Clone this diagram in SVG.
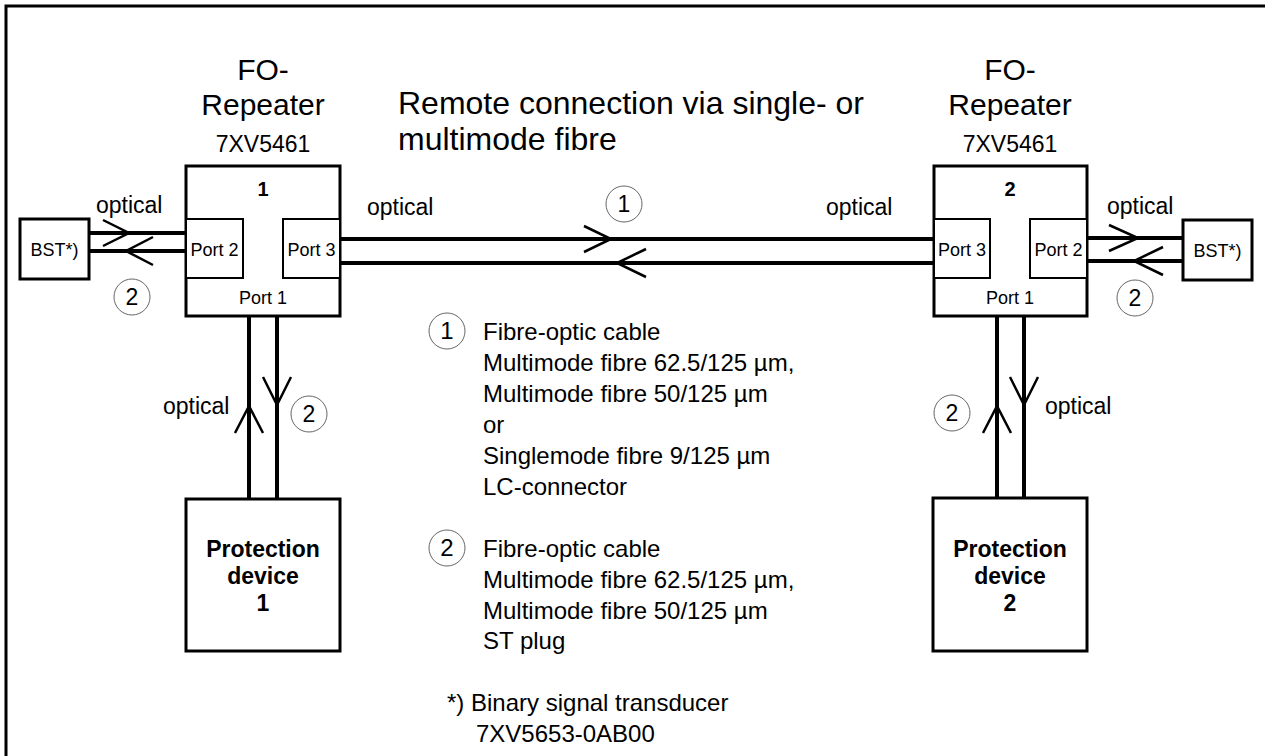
<svg xmlns="http://www.w3.org/2000/svg" width="1265" height="756" viewBox="0 0 1265 756">
<style>
text{font-family:"Liberation Sans",Arial,sans-serif;fill:#000}
.big{font-size:30px}
.rem{font-size:32px}
.mid{font-size:23px}
.leg{font-size:24px}
.sm{font-size:18px}
.b{font-weight:bold}
.c{text-anchor:middle}
.box{fill:#fff;stroke:#000;stroke-width:3}
.port{fill:#fff;stroke:#000;stroke-width:2}
.ln{stroke:#000;stroke-width:4;fill:none}
.ah{stroke:#000;stroke-width:2.5;fill:none}
.cir{fill:none;stroke:#666;stroke-width:1}
</style>
<rect width="1265" height="756" fill="#fff"/>
<path d="M6,756V6H1265" fill="none" stroke="#000" stroke-width="3"/>

<g id="connectors">
<path class="ln" d="M89,233H186M89,251H186"/>
<path class="ah" d="M103,220L129,233L103,246M153,237L126,251L153,265"/>
<path class="ln" d="M340,239H934M340,263H934"/>
<path class="ah" d="M584,226L611,239L584,252M646,249L617,263L646,277"/>
<path class="ln" d="M1087,238H1183M1087,261H1183"/>
<path class="ah" d="M1109,225L1138,238L1109,251M1163,247L1134,261L1163,275"/>
<path class="ln" d="M249,316V499M277,316V499"/>
<path class="ah" d="M235,433L249,406L263,433M263,377L277,405L291,377"/>
<path class="ln" d="M997,316V498M1024,316V498"/>
<path class="ah" d="M983,433L997,406L1011,433M1010,377L1024,405L1038,377"/>
</g>

<g id="repeater1">
<text class="big c" x="263" y="80">FO-</text>
<text class="big c" x="263" y="115">Repeater</text>
<text class="mid c" x="263" y="152">7XV5461</text>
<rect class="box" x="186" y="166" width="154" height="150"/>
<text class="b c" style="font-size:20px" x="263" y="196">1</text>
<rect class="port" x="186" y="219" width="57" height="59"/>
<text class="sm c" x="214.5" y="256">Port 2</text>
<rect class="port" x="283" y="219" width="57" height="59"/>
<text class="sm c" x="311.5" y="256">Port 3</text>
<text class="sm c" x="263" y="304">Port 1</text>
</g>

<g id="repeater2">
<text class="big c" x="1010" y="80">FO-</text>
<text class="big c" x="1010" y="115">Repeater</text>
<text class="mid c" x="1010" y="152">7XV5461</text>
<rect class="box" x="934" y="166" width="153" height="150"/>
<text class="b c" style="font-size:20px" x="1010" y="196">2</text>
<rect class="port" x="934" y="219" width="56" height="59"/>
<text class="sm c" x="962" y="256">Port 3</text>
<rect class="port" x="1030" y="219" width="57" height="59"/>
<text class="sm c" x="1058.5" y="256">Port 2</text>
<text class="sm c" x="1010" y="304">Port 1</text>
</g>

<g id="bst1">
<rect class="box" x="20" y="219" width="69" height="60"/>
<text class="sm c" x="54.5" y="256">BST*)</text>
</g>
<g id="bst2">
<rect class="box" x="1183" y="220" width="69" height="60"/>
<text class="sm c" x="1217.5" y="257">BST*)</text>
</g>

<g id="prot1">
<rect class="box" x="186" y="499" width="154" height="152"/>
<text class="mid b c" x="263" y="557">Protection</text>
<text class="mid b c" x="263" y="584">device</text>
<text class="mid b c" x="263" y="611">1</text>
</g>
<g id="prot2">
<rect class="box" x="933" y="498" width="154" height="153"/>
<text class="mid b c" x="1010" y="557">Protection</text>
<text class="mid b c" x="1010" y="584">device</text>
<text class="mid b c" x="1010" y="611">2</text>
</g>

<g id="labels">
<text class="mid" x="96" y="213">optical</text>
<text class="mid" x="1107" y="214">optical</text>
<text class="mid" x="367" y="215">optical</text>
<text class="mid" x="826" y="215">optical</text>
<text class="mid" x="163" y="414">optical</text>
<text class="mid" x="1045" y="414">optical</text>
<text class="rem" x="398" y="114">Remote connection via single- or</text>
<text class="rem" x="398" y="150">multimode fibre</text>

<circle class="cir" cx="132" cy="297" r="18"/><text class="mid c" x="132" y="305">2</text>
<circle class="cir" cx="1135" cy="298" r="18"/><text class="mid c" x="1135" y="306">2</text>
<circle class="cir" cx="309" cy="414" r="18"/><text class="mid c" x="309" y="422">2</text>
<circle class="cir" cx="952" cy="413" r="18"/><text class="mid c" x="952" y="421">2</text>
<circle class="cir" cx="624" cy="204" r="18"/><text class="mid c" x="624" y="212">1</text>

<circle class="cir" cx="447" cy="331" r="18"/><text class="leg c" x="447" y="339">1</text>
<text class="leg" x="483" y="340">Fibre-optic cable</text>
<text class="leg" x="483" y="371">Multimode fibre 62.5/125 µm,</text>
<text class="leg" x="483" y="402">Multimode fibre 50/125 µm</text>
<text class="leg" x="483" y="433">or</text>
<text class="leg" x="483" y="464">Singlemode fibre 9/125 µm</text>
<text class="leg" x="483" y="495">LC-connector</text>

<circle class="cir" cx="447" cy="548" r="18"/><text class="leg c" x="447" y="556">2</text>
<text class="leg" x="483" y="557">Fibre-optic cable</text>
<text class="leg" x="483" y="588">Multimode fibre 62.5/125 µm,</text>
<text class="leg" x="483" y="619">Multimode fibre 50/125 µm</text>
<text class="leg" x="483" y="649">ST plug</text>

<text class="leg" x="447" y="711">*) Binary signal transducer</text>
<text class="leg" x="476" y="742">7XV5653-0AB00</text>
</g>
</svg>
